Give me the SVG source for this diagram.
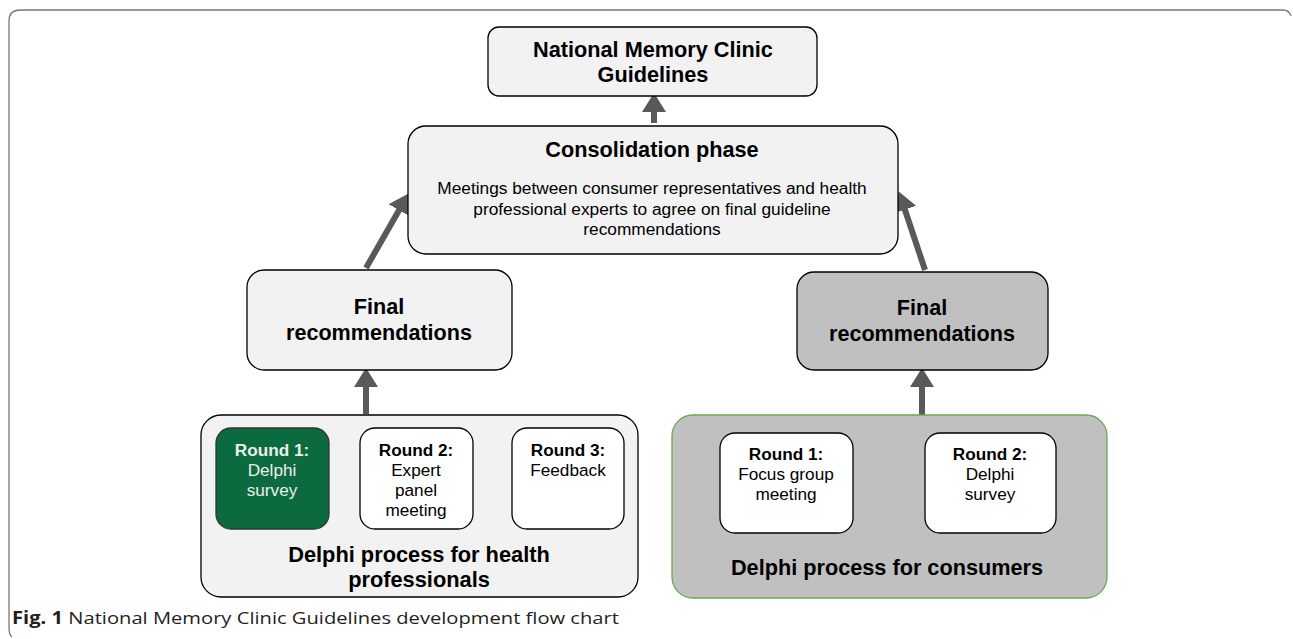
<svg xmlns="http://www.w3.org/2000/svg" width="1293" height="639" viewBox="0 0 1293 639">
<defs>
<style>
.t{font-family:"Liberation Sans",Arial,sans-serif;text-anchor:middle;fill:#000}
.b{font-weight:bold}
.box{stroke:#000;stroke-width:1.3}
.lt{fill:#f2f2f2}
.gr{fill:#c0c0c0}
.wh{fill:#fff}
.cn{stroke:#595959;stroke-width:6;fill:none}
.cs{stroke:#595959;stroke-width:4;fill:none}
</style>
<marker id="ah" markerWidth="4" markerHeight="4" refX="1" refY="2" orient="auto" markerUnits="strokeWidth">
<path d="M0,0 L3.2,2 L0,4 Z" fill="#595959"/>
</marker>
<marker id="as" markerWidth="4" markerHeight="4" refX="1" refY="2" orient="auto" markerUnits="strokeWidth">
<path d="M0,0 L3.6,2 L0,4 Z" fill="#595959"/>
</marker>
</defs>
<rect width="1293" height="639" fill="#fff"/>
<path d="M1291,16 Q1289,10 1283,10 L20,10 Q9,10 9,21 L9,628 Q9,635 12,637" fill="none" stroke="#777" stroke-width="1.3"/>

<g id="connectors">
<line class="cn" x1="654" y1="123" x2="654" y2="106" marker-end="url(#ah)"/>
<line class="cn" x1="366" y1="268" x2="402" y2="205" marker-end="url(#ah)"/>
<line class="cn" x1="925" y1="270" x2="903" y2="204" marker-end="url(#ah)"/>
<line class="cn" x1="366" y1="414" x2="366" y2="381" marker-end="url(#ah)"/>
<line class="cn" x1="922" y1="415" x2="922" y2="381" marker-end="url(#ah)"/>
<line class="cs" x1="329" y1="480" x2="347" y2="480" marker-end="url(#as)"/>
<line class="cs" x1="473" y1="480" x2="499" y2="480" marker-end="url(#as)"/>
<line class="cs" x1="853" y1="483" x2="912" y2="483" marker-end="url(#as)"/>
</g>

<g id="guidelines">
<rect class="box lt" x="488" y="27" width="329" height="69" rx="11"/>
<text class="t b" x="653" y="57" font-size="21.7">National Memory Clinic</text>
<text class="t b" x="653" y="82" font-size="21.7">Guidelines</text>
</g>

<g id="consolidation">
<rect class="box lt" x="408" y="126" width="490" height="128" rx="18"/>
<text class="t b" x="652" y="157" font-size="21.7">Consolidation phase</text>
<text class="t" x="652" y="194" font-size="17.3">Meetings between consumer representatives and health</text>
<text class="t" x="652" y="215" font-size="17.3">professional experts to agree on final guideline</text>
<text class="t" x="652" y="235" font-size="17.3">recommendations</text>
</g>

<g id="final-hp">
<rect class="box lt" x="247" y="270" width="265" height="100" rx="17"/>
<text class="t b" x="379" y="314" font-size="21.6">Final</text>
<text class="t b" x="379" y="340" font-size="21.6">recommendations</text>
</g>

<g id="final-consumers">
<rect class="box gr" x="797" y="272" width="251" height="98" rx="17"/>
<text class="t b" x="922" y="315" font-size="21.6">Final</text>
<text class="t b" x="922" y="341" font-size="21.6">recommendations</text>
</g>

<g id="delphi-hp">
<rect class="box lt" x="201" y="415" width="437" height="182" rx="20"/>
<text class="t b" x="419" y="562" font-size="21.8">Delphi process for health</text>
<text class="t b" x="419" y="587" font-size="21.8">professionals</text>
</g>

<g id="hp-round1">
<rect x="216" y="428" width="113" height="101" rx="15" fill="#0b6b3e" stroke="#333" stroke-width="1.3"/>
<text class="t b" x="272" y="456" font-size="17.2" style="fill:#eeeeee">Round 1:</text>
<text class="t" x="272" y="476" font-size="17.2" style="fill:#eeeeee">Delphi</text>
<text class="t" x="272" y="496" font-size="17.2" style="fill:#eeeeee">survey</text>
</g>

<g id="hp-round2">
<rect class="box wh" x="360" y="428" width="113" height="101" rx="15"/>
<text class="t b" x="416" y="456" font-size="17.2">Round 2:</text>
<text class="t" x="416" y="476" font-size="17.2">Expert</text>
<text class="t" x="416" y="496" font-size="17.2">panel</text>
<text class="t" x="416" y="516" font-size="17.2">meeting</text>
</g>

<g id="hp-round3">
<rect class="box wh" x="512" y="428" width="112" height="101" rx="15"/>
<text class="t b" x="568" y="456" font-size="17.2">Round 3:</text>
<text class="t" x="568" y="476" font-size="17.2">Feedback</text>
</g>

<g id="delphi-consumers">
<rect x="672" y="415" width="435" height="183" rx="21" fill="#c0c0c0" stroke="#6aa84f" stroke-width="1.3"/>
<text class="t b" x="887" y="575" font-size="21.7">Delphi process for consumers</text>
</g>

<g id="c-round1">
<rect class="box wh" x="720" y="433" width="133" height="100" rx="15"/>
<text class="t b" x="786" y="460" font-size="17.2">Round 1:</text>
<text class="t" x="786" y="480" font-size="17.2">Focus group</text>
<text class="t" x="786" y="500" font-size="17.2">meeting</text>
</g>

<g id="c-round2">
<rect class="box wh" x="925" y="433" width="131" height="100" rx="15"/>
<text class="t b" x="990" y="460" font-size="17.2">Round 2:</text>
<text class="t" x="990" y="480" font-size="17.2">Delphi</text>
<text class="t" x="990" y="500" font-size="17.2">survey</text>
</g>

<text x="12" y="624" font-family="'Open Sans','Noto Sans',sans-serif" font-size="17" fill="#231f20" textLength="607" lengthAdjust="spacingAndGlyphs"><tspan font-weight="bold">Fig. 1</tspan>  National Memory Clinic Guidelines development flow chart</text>
</svg>
